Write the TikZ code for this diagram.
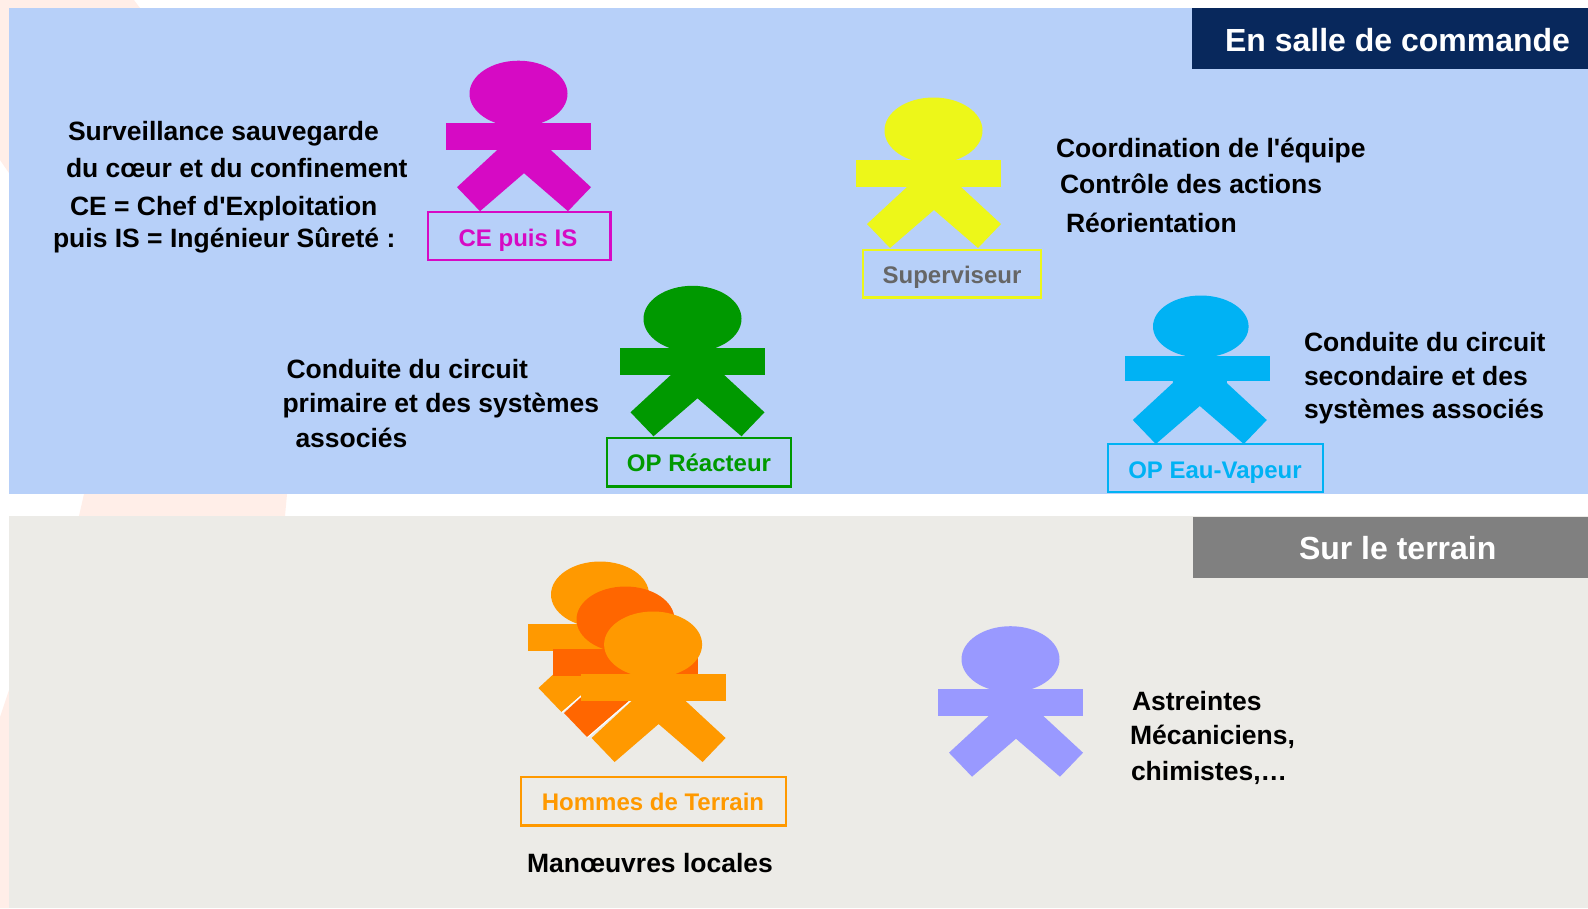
\documentclass[tikz,border=0pt]{standalone}
\usepackage{fontspec}
\setmainfont{Liberation Sans}[Ligatures=TeXOff]
\definecolor{bgblue}{HTML}{B7D0F9}
\definecolor{bggrey}{HTML}{ECEBE7}
\definecolor{navy}{HTML}{08285C}
\definecolor{hgrey}{HTML}{808080}
\definecolor{wm}{HTML}{FFEEE8}
\definecolor{cmag}{HTML}{D60AC4}
\definecolor{cyel}{HTML}{EDF719}
\definecolor{cgrn}{HTML}{009900}
\definecolor{cblu}{HTML}{00B2F4}
\definecolor{cora}{HTML}{FF9900}
\definecolor{cdor}{HTML}{FF6600}
\definecolor{cpur}{HTML}{9999FF}
\definecolor{cgtx}{HTML}{666666}
\tikzset{
  x=1pt,y=-1pt,
  txt/.style={anchor=base west,inner sep=0pt,outer sep=0pt,font=\fontsize{26.5}{30}\selectfont\bfseries,text=black},
  hdr/.style={anchor=base west,inner sep=0pt,outer sep=0pt,font=\fontsize{32}{36}\selectfont\bfseries,text=white},
  lab/.style={anchor=base,inner sep=0pt,outer sep=0pt,font=\fontsize{24}{30}\selectfont\bfseries},
  labbox/.style={draw=#1,line width=2.5pt,fill=none,inner sep=0pt,outer sep=0pt,anchor=north west},
}
% x, y of the arm bar, colour, head dx, leg shift, bar height, head radii
\newcommand{\kid}[8]{%
  \begin{scope}[shift={(#1,#2)}]
    \fill[#3] (#4,-29.5) ellipse [x radius=#7,y radius=#8];
    \fill[#3] (0,0) rectangle (145,#6);
    \fill[#3] ({51+#5},20) -- ({105+#5},20) -- ({105+#5},27) -- ({145+#5},64) -- ({122+#5},88) -- ({78+#5},50) -- ({34+#5},88) -- ({11+#5},64) -- ({51+#5},27) -- cycle;
  \end{scope}}
\begin{document}
\begin{tikzpicture}
\useasboundingbox (0,0) rectangle (1588,908);
\fill[white] (0,0) rectangle (1588,908);
% faint background drawing
\fill[wm] (0,0) -- (134,0) -- (140,8) -- (9,8) -- (9,173) -- (0,160) -- cycle;
\fill[wm] (84,494) -- (287,494) -- (285,516) -- (79,516) -- cycle;
\fill[wm] (9,690) -- (0,717) -- (0,908) -- (9,908) -- cycle;
% panels
\fill[bgblue] (9,8) rectangle (1588,494);
\fill[bggrey] (9,516) rectangle (1588,908);
\fill[navy] (1192,8) rectangle (1588,69);
\fill[hgrey] (1193,517) rectangle (1588,578);
\node[hdr] (h1) at (1225,51) {En salle de commande};
\node[hdr] (h2) at (1299,559.5) {Sur le terrain};
% figures
\kid{446}{123.2}{cmag}{72.5}{0}{27}{49}{33}
\kid{856}{160}{cyel}{77.5}{0}{27}{49}{33}
\kid{619.5}{348.3}{cgrn}{73}{0}{27}{49}{33}
\kid{1125.3}{356}{cblu}{75.5}{-3.5}{24.5}{47.8}{31}
\kid{938}{688.7}{cpur}{72.5}{0}{27}{49}{33}
\kid{527.5}{624}{cora}{72.5}{0}{27}{49}{33}
\kid{553}{649}{cdor}{72.5}{0}{27}{49}{33}
\draw[white,line width=0.9pt] (562,712.5) -- (581,696);
\draw[white,line width=0.9pt] (587.5,737.5) -- (630,701);
\kid{580.6}{674}{cora}{72.5}{0}{27}{49}{33}
% role boxes
\node[labbox=cmag,minimum width=182.5pt,minimum height=48pt] (bce) at (428.2,212.2) {};
\node[labbox=cyel,minimum width=178pt,minimum height=47.5pt] (bsu) at (863.2,250) {};
\node[labbox=cgrn,minimum width=184pt,minimum height=48.3pt] (bre) at (607.2,438) {};
\node[labbox=cblu,minimum width=215pt,minimum height=48pt] (bev) at (1108.2,444.2) {};
\node[labbox=cora,minimum width=265pt,minimum height=48.3pt] (bte) at (521.2,777) {};
\node[lab,text=cmag] (lce) at (518,246.5) {CE puis IS};
\node[lab,text=cgtx] (lsu) at (952,283.6) {Superviseur};
\node[lab,text=cgrn] (lre) at (699,471) {OP Réacteur};
\node[lab,text=cblu] (lev) at (1215,478) {OP Eau-Vapeur};
\node[lab,text=cora] (lte) at (653,810) {Hommes de Terrain};
% descriptions
\node[txt] (a1) at (68,140) {Surveillance sauvegarde};
\node[txt] (a2) at (66,177) {du cœur et du confinement};
\node[txt] (a3) at (70,215) {CE = Chef d'Exploitation};
\node[txt] (a4) at (53,247.7) {puis IS = Ingénieur Sûreté :};
\node[txt] (b1) at (1056,157) {Coordination de l'équipe};
\node[txt] (b2) at (1060,193) {Contrôle des actions};
\node[txt] (b3) at (1066,232) {Réorientation};
\node[txt] (c1) at (1304,351) {Conduite du circuit};
\node[txt] (c2) at (1304,385) {secondaire et des};
\node[txt] (c3) at (1304,418.5) {systèmes associés};
\node[txt] (d1) at (286.5,378.7) {Conduite du circuit};
\node[txt] (d2) at (282.5,412.7) {primaire et des systèmes};
\node[txt] (d3) at (295.5,447) {associés};
\node[txt] (e1) at (1132,710) {Astreintes};
\node[txt] (e2) at (1130,744.5) {Mécaniciens,};
\node[txt] (e3) at (1131,780) {chimistes,…};
\node[txt] (f1) at (527,872.7) {Manœuvres locales};
\end{tikzpicture}
\end{document}
